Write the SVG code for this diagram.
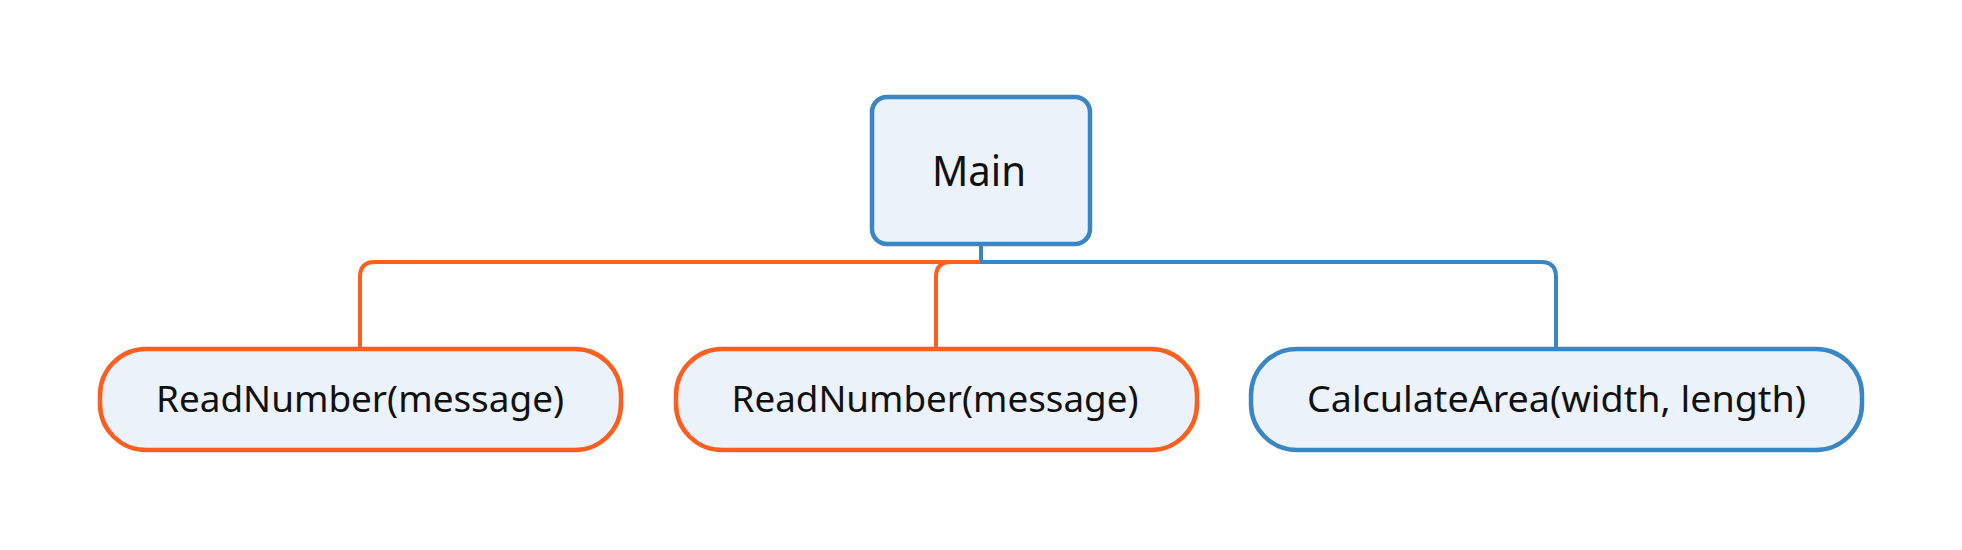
<svg xmlns="http://www.w3.org/2000/svg" width="1962" height="550" viewBox="0 0 1962 550">
<style>
.bg{fill:#ffffff}
.box{fill:#ebf2f9;stroke-width:4.5}
.blue{stroke:#3a86c4}
.orange{stroke:#fc5e20}
.lbl{font-family:"Noto Sans","Open Sans",sans-serif;fill:#111111;text-anchor:middle}
.edge{fill:none;stroke-width:4}
</style>
<rect class="bg" x="0" y="0" width="1962" height="550"/>
<g id="connectors">
<path class="edge blue" d="M981 244 V262 H1541 Q1556 262 1556 277 V349"/>
<path class="edge orange" d="M360 349 V277 Q360 262 375 262 H980"/>
<path class="edge orange" d="M936 349 V277 Q936 262 951 262 H980"/>
</g>
<g id="main">
<rect class="box blue" x="872" y="97" width="218" height="147" rx="15"/>
<text class="lbl" x="979" y="186" font-size="42" textLength="94" lengthAdjust="spacingAndGlyphs">Main</text>
</g>
<g id="readnumber1">
<rect class="box orange" x="100" y="349" width="521" height="101" rx="46"/>
<text class="lbl" x="360" y="411.5" font-size="37" textLength="408" lengthAdjust="spacingAndGlyphs">ReadNumber(message)</text>
</g>
<g id="readnumber2">
<rect class="box orange" x="676" y="349" width="521" height="101" rx="46"/>
<text class="lbl" x="935" y="411.5" font-size="37" textLength="407" lengthAdjust="spacingAndGlyphs">ReadNumber(message)</text>
</g>
<g id="calculatearea">
<rect class="box blue" x="1251" y="349" width="611" height="101" rx="46"/>
<text class="lbl" x="1556.5" y="411.5" font-size="37" textLength="499" lengthAdjust="spacingAndGlyphs">CalculateArea(width, length)</text>
</g>
</svg>
